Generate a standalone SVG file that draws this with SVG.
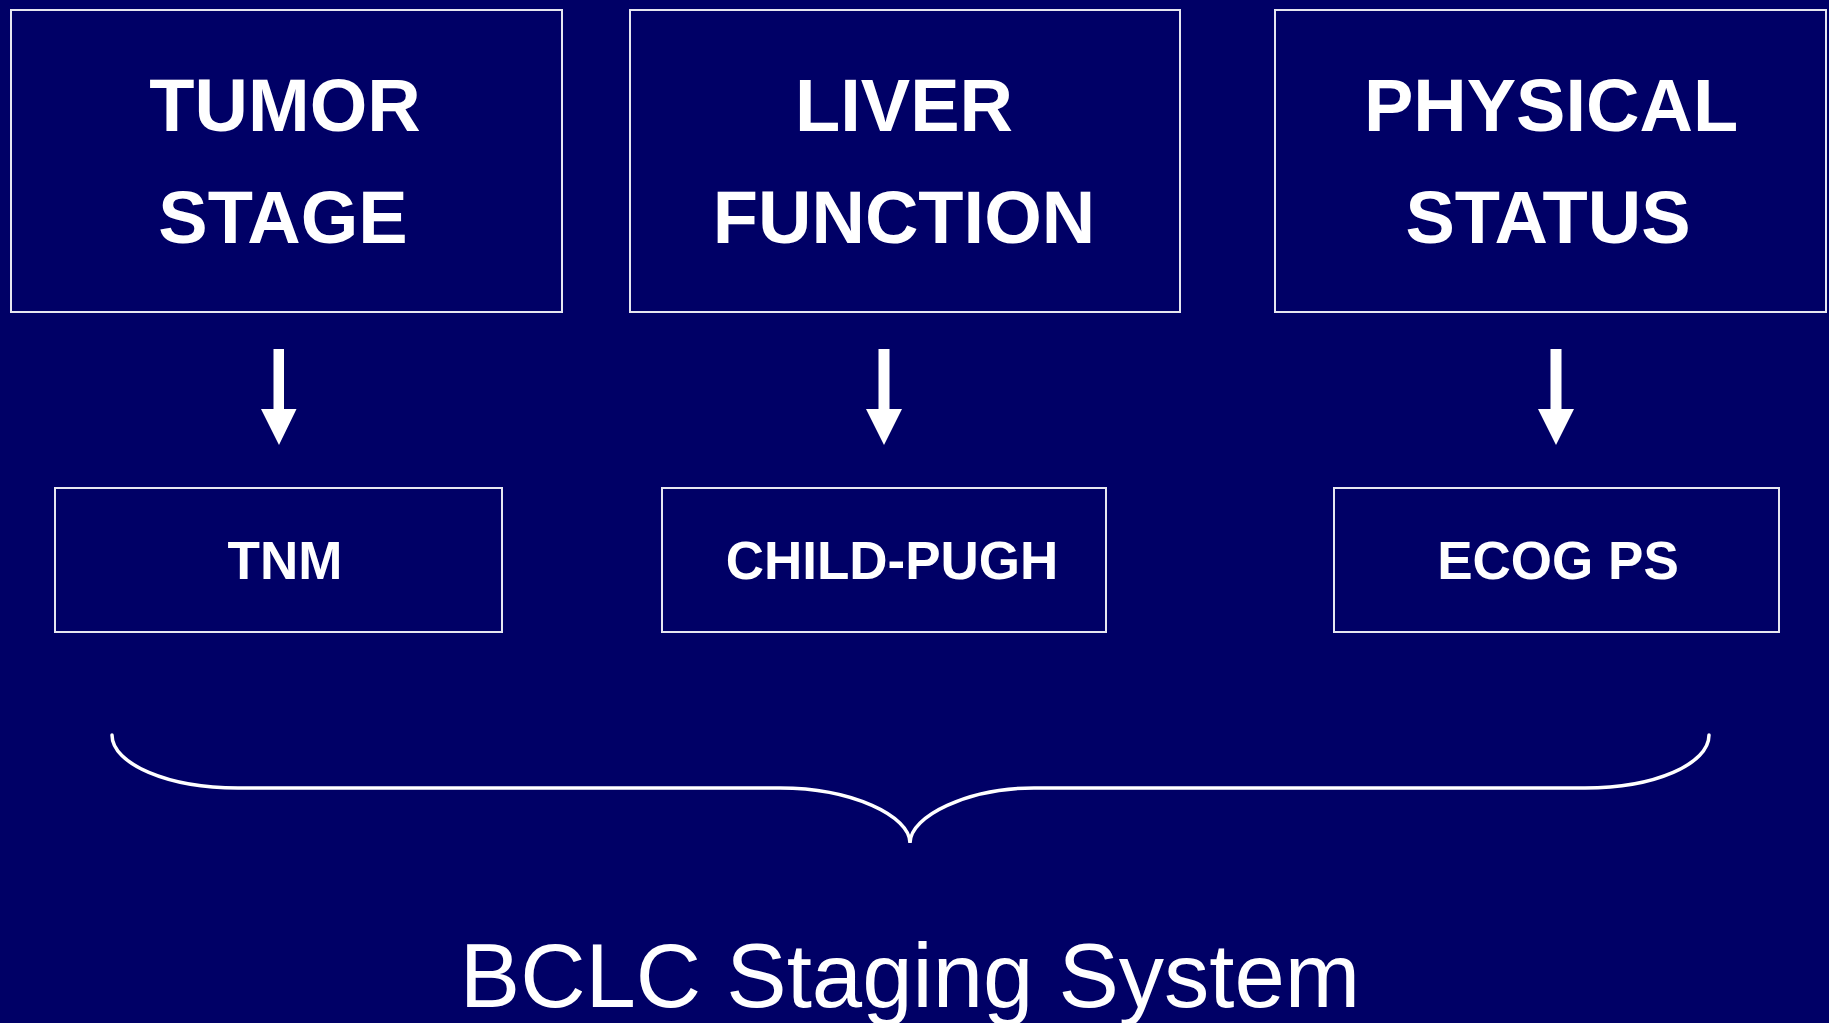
<svg xmlns="http://www.w3.org/2000/svg" width="1829" height="1023" viewBox="0 0 1829 1023">
<style>
.box{fill:none;stroke:#E6E6F0;stroke-width:2}
.big{font-family:"Liberation Sans",Arial,sans-serif;font-weight:bold;font-size:74px;fill:#fff;text-anchor:middle}
.small{font-family:"Liberation Sans",Arial,sans-serif;font-weight:bold;font-size:53px;fill:#fff;text-anchor:middle}
.title{font-family:"Liberation Sans",Arial,sans-serif;font-size:90.5px;fill:#fff;text-anchor:middle}
.shaft{fill:#fff}
</style>
<rect x="0" y="0" width="1829" height="1023" fill="#000066"/>
<g id="tumor-stage">
<rect class="box" x="11" y="10" width="551" height="302"/>
<text class="big" x="285" y="131">TUMOR</text>
<text class="big" x="283" y="243">STAGE</text>
</g>
<g id="liver-function">
<rect class="box" x="630" y="10" width="550" height="302"/>
<text class="big" x="904" y="131">LIVER</text>
<text class="big" x="904" y="243">FUNCTION</text>
</g>
<g id="physical-status">
<rect class="box" x="1275" y="10" width="551" height="302"/>
<text class="big" x="1551" y="131">PHYSICAL</text>
<text class="big" x="1548" y="243">STATUS</text>
</g>
<g id="tnm">
<rect class="box" x="55" y="488" width="447" height="144"/>
<text class="small" x="285" y="579">TNM</text>
</g>
<g id="child-pugh">
<rect class="box" x="662" y="488" width="444" height="144"/>
<text class="small" x="892" y="579">CHILD-PUGH</text>
</g>
<g id="ecog-ps">
<rect class="box" x="1334" y="488" width="445" height="144"/>
<text class="small" x="1558" y="579">ECOG PS</text>
</g>
<g id="connectors">
<path class="shaft" d="M273.5 349 H284 V409 H296.5 L279 445 L261 409 H273.5 Z"/>
<path class="shaft" d="M878.5 349 H889.5 V409 H902 L884 445 L866 409 H878.5 Z"/>
<path class="shaft" d="M1550.5 349 H1561.5 V409 H1574 L1556 445 L1538 409 H1550.5 Z"/>
<path d="M112 735 C112 764 168 788 238 788 L780 788 C852 788 910 816 910 843 C910 816 968 788 1034 788 L1585 788 C1655 788 1709 764 1709 735" fill="none" stroke="#fff" stroke-width="3.5" stroke-linejoin="miter" stroke-linecap="round"/>
</g>
<g id="bclc">
<text class="title" x="910" y="1007">BCLC Staging System</text>
</g>
</svg>
